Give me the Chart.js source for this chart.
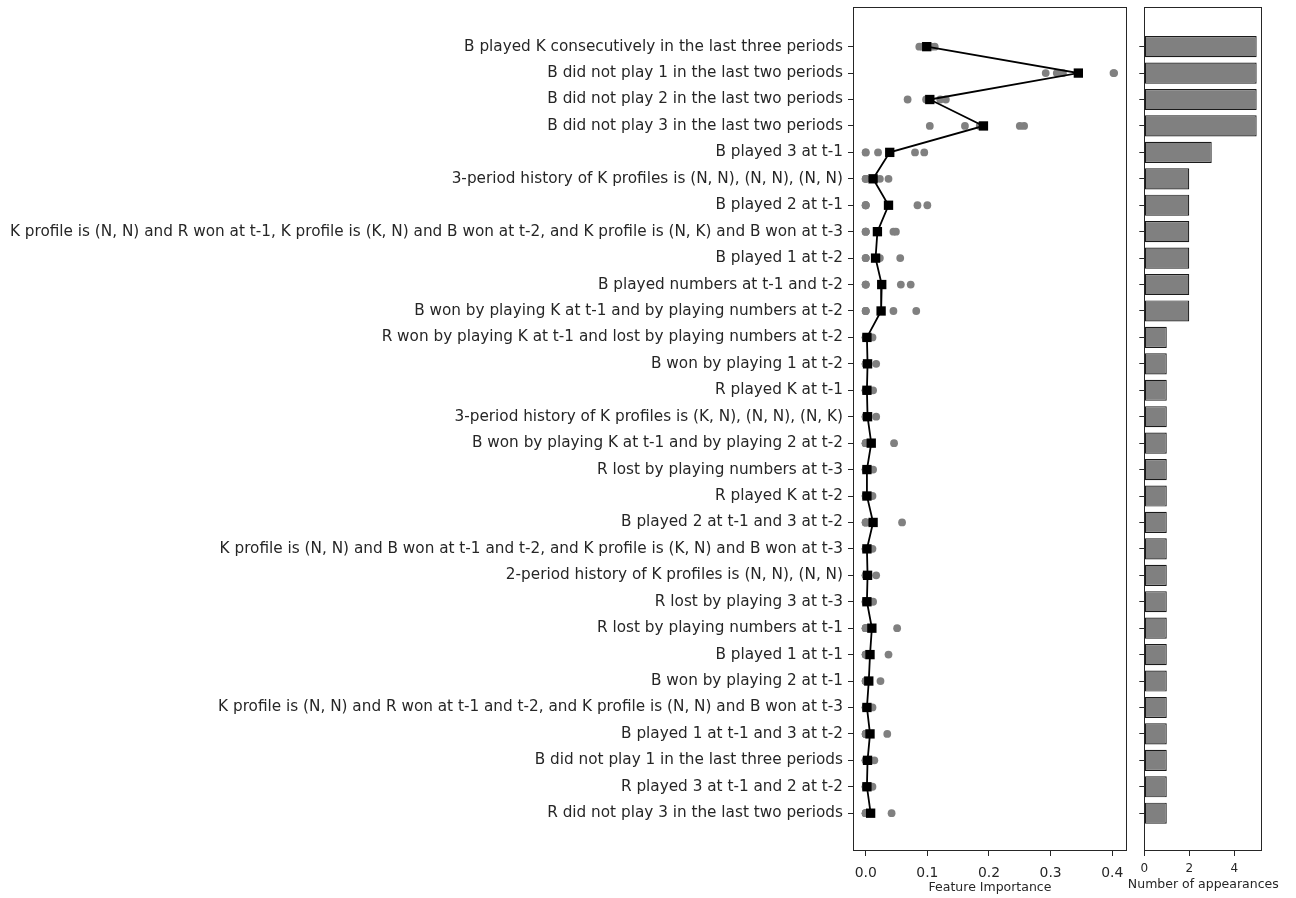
<!DOCTYPE html>
<html>
<head>
<meta charset="utf-8">
<script src="https://cdn.jsdelivr.net/npm/chart.js@4.4.1/dist/chart.umd.min.js"></script>
<style>
  html, body { margin: 0; padding: 0; background: #ffffff; }
  body { width: 1296px; height: 898px; position: relative; overflow: hidden; }
  #importance { position: absolute; left: 0; top: 0; }
  #appearances { position: absolute; left: 1095px; top: 0; }
</style>
</head>
<body>
<canvas id="importance" width="1135" height="898"></canvas>
<canvas id="appearances" width="201" height="898"></canvas>
<script>
// Features, ordered as listed on the vertical axis (top to bottom)
const features = [
  "B played K consecutively in the last three periods",
  "B did not play 1 in the last two periods",
  "B did not play 2 in the last two periods",
  "B did not play 3 in the last two periods",
  "B played 3 at t-1",
  "3-period history of K profiles is (N, N), (N, N), (N, N)",
  "B played 2 at t-1",
  "K profile is (N, N) and R won at t-1, K profile is (K, N) and B won at t-2, and K profile is (N, K) and B won at t-3",
  "B played 1 at t-2",
  "B played numbers at t-1 and t-2",
  "B won by playing K at t-1 and by playing numbers at t-2",
  "R won by playing K at t-1 and lost by playing numbers at t-2",
  "B won by playing 1 at t-2",
  "R played K at t-1",
  "3-period history of K profiles is (K, N), (N, N), (N, K)",
  "B won by playing K at t-1 and by playing 2 at t-2",
  "R lost by playing numbers at t-3",
  "R played K at t-2",
  "B played 2 at t-1 and 3 at t-2",
  "K profile is (N, N) and B won at t-1 and t-2, and K profile is (K, N) and B won at t-3",
  "2-period history of K profiles is (N, N), (N, N)",
  "R lost by playing 3 at t-3",
  "R lost by playing numbers at t-1",
  "B played 1 at t-1",
  "B won by playing 2 at t-1",
  "K profile is (N, N) and R won at t-1 and t-2, and K profile is (N, N) and B won at t-3",
  "B played 1 at t-1 and 3 at t-2",
  "B did not play 1 in the last three periods",
  "R played 3 at t-1 and 2 at t-2",
  "R did not play 3 in the last two periods"
];

// Feature importance from each of the five fitted models (0 = feature not selected)
const run1 = [0.087, 0.292, 0.068, 0.104, 0, 0, 0, 0, 0, 0, 0, 0, 0, 0, 0, 0, 0, 0, 0, 0, 0, 0, 0, 0, 0, 0, 0, 0, 0, 0];
const run2 = [0.092, 0.310, 0.098, 0.161, 0, 0, 0, 0, 0, 0, 0, 0, 0, 0, 0, 0, 0, 0, 0, 0, 0, 0, 0, 0, 0, 0, 0, 0, 0, 0];
const run3 = [0.098, 0.320, 0.103, 0.185, 0.020, 0, 0, 0, 0, 0, 0, 0, 0, 0, 0, 0, 0, 0, 0, 0, 0, 0, 0, 0, 0, 0, 0, 0, 0, 0];
const run4 = [0.106, 0.402, 0.121, 0.250, 0.080, 0.023, 0.084, 0.045, 0.023, 0.057, 0.045, 0, 0, 0, 0, 0, 0, 0, 0, 0, 0, 0, 0, 0, 0, 0, 0, 0, 0, 0];
const run5 = [0.112, 0.403, 0.130, 0.257, 0.095, 0.037, 0.100, 0.049, 0.056, 0.073, 0.082,
              0.011, 0.017, 0.012, 0.017, 0.046, 0.012, 0.011, 0.059, 0.011,
              0.017, 0.012, 0.051, 0.037, 0.024, 0.011, 0.035, 0.014, 0.011, 0.042];

// Mean importance across the five models
const meanImportance = [0.099, 0.345, 0.104, 0.191, 0.039, 0.012, 0.037, 0.019, 0.016, 0.026, 0.025,
                        0.002, 0.003, 0.002, 0.003, 0.009, 0.002, 0.002, 0.012, 0.002,
                        0.003, 0.002, 0.010, 0.007, 0.005, 0.002, 0.007, 0.003, 0.002, 0.008];

// How many of the five models selected each feature
const appearances = [5, 5, 5, 5, 3, 2, 2, 2, 2, 2, 2, 1, 1, 1, 1, 1, 1, 1, 1, 1, 1, 1, 1, 1, 1, 1, 1, 1, 1, 1];

const importanceTicks = [0.0, 0.1, 0.2, 0.3, 0.4];
const appearanceTicks = [0, 2, 4];

const TEXT = '#262626';
const EDGE = '#262626';
const FONT = "'DejaVu Sans', sans-serif";
const padAbove = 1.5;
const padBelow = 1.43;
const X_AXIS_HEIGHT = 47;

// draws the full rectangular frame around the plotting area
const framePlugin = {
  id: 'frame',
  afterDatasetsDraw(chart) {
    const a = chart.chartArea, ctx = chart.ctx;
    ctx.save();
    ctx.strokeStyle = EDGE;
    ctx.lineWidth = 1;
    ctx.strokeRect(Math.round(a.left) + 0.5, Math.round(a.top) + 0.5,
                   Math.round(a.right - a.left) - 1, Math.round(a.bottom - a.top) - 1);
    ctx.restore();
  }
};

// x-axis caption drawn freely so it may be wider than the narrow plot
const captionPlugin = {
  id: 'caption',
  afterDraw(chart, args, opts) {
    if (!opts.text) return;
    const a = chart.chartArea, ctx = chart.ctx;
    ctx.save();
    ctx.fillStyle = TEXT;
    ctx.font = `${opts.size}px ${FONT}`;
    ctx.textAlign = 'center';
    ctx.textBaseline = 'middle';
    ctx.fillText(opts.text, (a.left + a.right) / 2, opts.y);
    ctx.restore();
  }
};

const tickGrid = { drawOnChartArea: false, drawTicks: true, tickLength: 5, tickWidth: 1, tickColor: EDGE, offset: false };

const rowScale = (labelsShown, axisWidth) => ({
  type: 'linear',
  reverse: true,
  offset: false,
  min: -padAbove,
  max: features.length - 1 + padBelow,
  afterBuildTicks(scale) { scale.ticks = features.map((_, i) => ({ value: i })); },
  afterFit(scale) {
    scale.width = axisWidth;
    scale.paddingTop = 0;
    scale.paddingBottom = 0;
  },
  border: { display: false },
  grid: tickGrid,
  ticks: {
    display: labelsShown,
    autoSkip: false,
    padding: 5,
    color: TEXT,
    font: { family: FONT, size: 15.28 },
    callback: (v) => features[v] ?? ''
  }
});

const valueScale = (lo, hi, tickValues, tickSize, tickPad, fmt) => ({
  type: 'linear',
  min: lo,
  max: hi,
  afterBuildTicks(scale) { scale.ticks = tickValues.map(v => ({ value: v })); },
  afterFit(scale) {
    scale.height = X_AXIS_HEIGHT;
    scale.paddingLeft = 0;
    scale.paddingRight = 0;
  },
  border: { display: false },
  grid: tickGrid,
  ticks: {
    maxRotation: 0,
    padding: tickPad,
    color: TEXT,
    font: { family: FONT, size: tickSize },
    callback: fmt
  }
});

const scatterPoints = [];
[run1, run2, run3, run4, run5].forEach(run => {
  run.forEach((v, i) => scatterPoints.push({ x: v, y: i }));
});

new Chart(document.getElementById('importance'), {
  type: 'scatter',
  data: {
    datasets: [
      {
        label: 'mean',
        data: meanImportance.map((v, i) => ({ x: v, y: i })),
        showLine: true,
        borderColor: '#000000',
        borderWidth: 1.8,
        pointStyle: 'rect',
        pointRadius: 6.6,
        pointBackgroundColor: '#000000',
        pointBorderWidth: 0,
        order: 0
      },
      {
        label: 'models',
        data: scatterPoints,
        pointStyle: 'circle',
        pointRadius: 3.9,
        pointBackgroundColor: '#808080',
        pointBorderWidth: 0,
        order: 1
      }
    ]
  },
  options: {
    responsive: false,
    animation: false,
    events: [],
    layout: { padding: { top: 7, right: 8, bottom: 0, left: 0 } },
    plugins: {
      legend: { display: false },
      tooltip: { enabled: false },
      caption: { text: 'Feature Importance', size: 12.5, y: 888 }
    },
    scales: {
      x: valueScale(-0.0206, 0.4239, importanceTicks, 13.9, 9, (v) => v.toFixed(1)),
      y: rowScale(true, 853)
    }
  },
  plugins: [framePlugin, captionPlugin]
});

new Chart(document.getElementById('appearances'), {
  type: 'bar',
  data: {
    datasets: [{
      data: appearances.map((v, i) => ({ x: v, y: i })),
      backgroundColor: '#808080',
      borderColor: '#1a1a1a',
      borderWidth: 1.2,
      borderSkipped: false,
      barPercentage: 0.8,
      categoryPercentage: 1.0
    }]
  },
  options: {
    indexAxis: 'y',
    responsive: false,
    animation: false,
    events: [],
    layout: { padding: { top: 7, right: 33.7, bottom: 0, left: 0 } },
    plugins: {
      legend: { display: false },
      tooltip: { enabled: false },
      caption: { text: 'Number of appearances', size: 12.5, y: 885 }
    },
    scales: {
      x: valueScale(0, 5.25, appearanceTicks, 12, 6, (v) => String(v)),
      y: rowScale(false, 49.3)
    }
  },
  plugins: [framePlugin, captionPlugin]
});
</script>
</body>
</html>
